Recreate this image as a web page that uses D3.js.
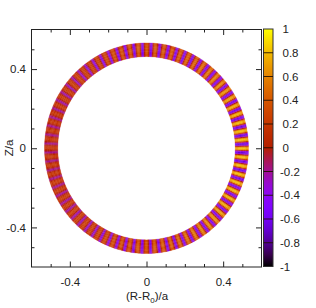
<!DOCTYPE html>
<html>
<head>
<meta charset="utf-8">
<script src="https://cdn.jsdelivr.net/npm/d3@7"></script>
<style>
  html, body { margin: 0; padding: 0; background: #fff; }
  text { font-family: "Liberation Sans", Arial, sans-serif; font-size: 11.5px; fill: #222; }
</style>
</head>
<body>
<div id="chart"></div>
<script>
// ring geometry and axis ticks, in units of a
var ringInner = 0.463, ringOuter = 0.532;
var majorTicks = [-0.4, 0, 0.4];
var minorTicks = [-0.5, -0.3, -0.2, -0.1, 0.1, 0.2, 0.3, 0.5];
var cbTicks = [1, 0.8, 0.6, 0.4, 0.2, 0, -0.2, -0.4, -0.6, -0.8, -1];

// peak value of each positive lobe, every 5 degrees counter-clockwise from the outboard midplane
var posPeaks = [
  0.84, 0.84, 0.83, 0.82, 0.8, 0.78, 0.74, 0.7, 0.66, 0.62, 0.58, 0.54,
  0.5, 0.48, 0.46, 0.44, 0.42, 0.42, 0.42, 0.42, 0.4, 0.38, 0.36, 0.33,
  0.3, 0.28, 0.27, 0.26, 0.25, 0.24, 0.23, 0.22, 0.21, 0.2, 0.2, 0.2,
  0.2, 0.2, 0.2, 0.2, 0.21, 0.22, 0.23, 0.24, 0.25, 0.26, 0.27, 0.28,
  0.3, 0.33, 0.36, 0.38, 0.4, 0.42, 0.42, 0.44, 0.46, 0.48, 0.5, 0.54,
  0.58, 0.62, 0.66, 0.7, 0.74, 0.78, 0.8, 0.82, 0.83, 0.84, 0.84, 0.84
];
// peak value of the negative lobe that follows each positive one
var negPeaks = [
  -0.68, -0.68, -0.66, -0.64, -0.62, -0.6, -0.58, -0.56, -0.55, -0.54, -0.54, -0.54,
  -0.54, -0.54, -0.54, -0.54, -0.54, -0.54, -0.54, -0.54, -0.52, -0.5, -0.47, -0.44,
  -0.4, -0.36, -0.33, -0.3, -0.28, -0.26, -0.25, -0.24, -0.23, -0.22, -0.21, -0.2,
  -0.2, -0.2, -0.21, -0.22, -0.23, -0.24, -0.25, -0.26, -0.28, -0.3, -0.33, -0.36,
  -0.4, -0.44, -0.47, -0.5, -0.52, -0.54, -0.54, -0.54, -0.54, -0.54, -0.54, -0.54,
  -0.54, -0.54, -0.54, -0.54, -0.55, -0.56, -0.58, -0.6, -0.62, -0.64, -0.66, -0.68
];
// fraction of a lobe's peak across each kind of lobe and across the ring
var posShape = [0.2, 0.85, 1, 0.85];
var negShape = [0, 0.5, 1, 0.5];
var radialShape = [0.88, 1, 1, 1, 0.88];

// colour map stops, -1 to 1 in steps of 0.1
var cmapValues = [-1, -0.9, -0.8, -0.7, -0.6, -0.5, -0.4, -0.3, -0.2, -0.1, 0, 0.1, 0.2, 0.3, 0.4, 0.5, 0.6, 0.7, 0.8, 0.9, 1];
var cmapColors = ["#000000", "#39004f", "#510096", "#6301ce", "#7202f3", "#8004ff", "#8c07f3", "#970bce", "#a11096", "#ab174f",
                  "#b42000", "#bd2a00", "#c63700", "#ce4600", "#d55700", "#dd6c00", "#e48300", "#eb9d00", "#f2ba00", "#f9db00", "#ffff00"];

var width = 316, height = 308;
var plot = {left: 31.5, right: 261.5, top: 29.5, bottom: 267};
var cb = {left: 263.5, right: 273, top: 29, bottom: 266.5};

var svg = d3.select("#chart").append("svg")
    .attr("width", width)
    .attr("height", height)
    .style("display", "block");

var x = d3.scaleLinear().domain([-0.6, 0.6]).range([plot.left, plot.right]);
var y = d3.scaleLinear().domain([-0.6, 0.6]).range([plot.bottom, plot.top]);
var color = d3.scaleLinear().domain(cmapValues).range(cmapColors);
var cbY = d3.scaleLinear().domain([-1, 1]).range([cb.bottom, cb.top]);

var defs = svg.append("defs");
defs.append("filter").attr("id", "soft")
    .attr("x", "-5%").attr("y", "-5%").attr("width", "110%").attr("height", "110%")
    .append("feGaussianBlur").attr("stdDeviation", 0.4);

var grad = defs.append("linearGradient").attr("id", "cbGrad")
    .attr("x1", 0).attr("y1", 1).attr("x2", 0).attr("y2", 0);
cmapValues.forEach(function(v, i) {
  grad.append("stop").attr("offset", (v + 1) / 2).attr("stop-color", cmapColors[i]);
});

// build the ring cells from the lobe lists
var cells = [];
var nSub = posShape.length;
var halfLobes = posPeaks.length * 2;
var dTheta = 2 * Math.PI / (halfLobes * nSub);
var dRad = (ringOuter - ringInner) / radialShape.length;
posPeaks.forEach(function(p, i) {
  [p, negPeaks[i]].forEach(function(peak, k) {
    (k === 0 ? posShape : negShape).forEach(function(ls, s) {
      radialShape.forEach(function(rs, r) {
        // the sub-cell with the largest weight sits at the centre of the lobe
        var t0 = (i * 2 + k) * nSub * dTheta + (s - 2.5) * dTheta;
        cells.push({
          t0: t0,
          t1: t0 + dTheta,
          r0: ringInner + r * dRad,
          r1: ringInner + (r + 1) * dRad,
          value: peak * ls * rs
        });
      });
    });
  });
});

function cellPath(d) {
  var steps = [[d.r0, d.t0], [d.r1, d.t0], [d.r1, d.t1], [d.r0, d.t1]];
  return "M" + steps.map(function(c) {
    return x(c[0] * Math.cos(c[1])) + "," + y(c[0] * Math.sin(c[1]));
  }).join("L") + "Z";
}

svg.append("g")
    .attr("filter", "url(#soft)")
    .selectAll("path")
    .data(cells)
    .enter().append("path")
    .attr("d", cellPath)
    .attr("fill", function(d) { return color(d.value); })
    .attr("stroke", function(d) { return color(d.value); })
    .attr("stroke-width", 0.3);

// axes: ticks point inward on all four sides
function addAxis(axisFn, scale, values, size, transform, labelled) {
  var axis = axisFn(scale).tickValues(values).tickSize(-size).tickPadding(labelled ? 11 : 0);
  if (!labelled) axis.tickFormat("");
  else axis.tickFormat(function(d) { return String(d); });
  var g = svg.append("g").attr("transform", transform).call(axis);
  g.select(".domain").remove();
  g.selectAll("line").attr("stroke", "#222").attr("stroke-width", 1);
  g.attr("font-size", null).attr("font-family", null);
  return g;
}

var bottomT = "translate(0," + plot.bottom + ")";
var topT = "translate(0," + plot.top + ")";
var leftT = "translate(" + plot.left + ",0)";
var rightT = "translate(" + plot.right + ",0)";

addAxis(d3.axisBottom, x, minorTicks, 3, bottomT, false);
addAxis(d3.axisBottom, x, majorTicks, 5.5, bottomT, true);
addAxis(d3.axisTop, x, minorTicks, 3, topT, false);
addAxis(d3.axisTop, x, majorTicks, 5.5, topT, false);
addAxis(d3.axisLeft, y, minorTicks, 3, leftT, false);
addAxis(d3.axisLeft, y, majorTicks, 5.5, leftT, true).selectAll("text").attr("dx", 5.5);
addAxis(d3.axisRight, y, minorTicks, 3, rightT, false);
addAxis(d3.axisRight, y, majorTicks, 5.5, rightT, false);

svg.append("rect")
    .attr("x", plot.left).attr("y", plot.top)
    .attr("width", plot.right - plot.left).attr("height", plot.bottom - plot.top)
    .attr("fill", "none").attr("stroke", "#222").attr("stroke-width", 1);

// colour bar
svg.append("rect")
    .attr("x", cb.left).attr("y", cb.top)
    .attr("width", cb.right - cb.left).attr("height", cb.bottom - cb.top)
    .attr("fill", "url(#cbGrad)").attr("stroke", "#333").attr("stroke-width", 1);

svg.append("g").selectAll("line")
    .data(cbTicks.slice(1, -1))
    .enter().append("line")
    .attr("x1", cb.left).attr("x2", cb.right)
    .attr("y1", function(d) { return cbY(d); })
    .attr("y2", function(d) { return cbY(d); })
    .attr("stroke", "#221100").attr("stroke-width", 0.9);

svg.append("g").selectAll("text")
    .data(cbTicks)
    .enter().append("text")
    .attr("x", function(d) { return d < 0 ? 280 : 282.5; })
    .attr("y", function(d) { return cbY(d); })
    .attr("dy", "0.35em")
    .text(function(d) { return d; });

// axis titles
svg.append("text")
    .attr("transform", "translate(13,148) rotate(-90)")
    .attr("text-anchor", "middle")
    .text("Z/a");

var xl = svg.append("text")
    .attr("x", 147).attr("y", 300)
    .attr("text-anchor", "middle");
xl.append("tspan").text("(R-R");
xl.append("tspan").attr("dy", 3).style("font-size", "8px").text("0");
xl.append("tspan").attr("dy", -3).text(")/a");
</script>
</body>
</html>
